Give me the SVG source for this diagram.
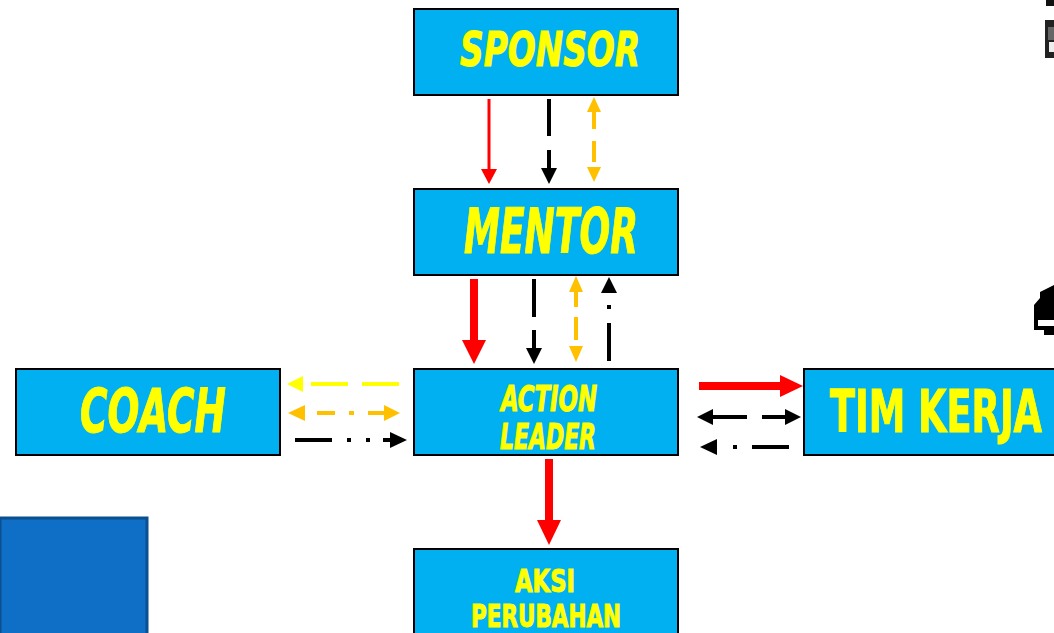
<svg xmlns="http://www.w3.org/2000/svg" width="1054" height="633" viewBox="0 0 1054 633">
<style>
.box{fill:#00B0F0;stroke:#000;stroke-width:2}
.t{fill:#FFFF00;stroke:#FFFF00;stroke-width:1;font-family:"DejaVu Sans Condensed","DejaVu Sans","Liberation Sans",sans-serif;font-weight:bold;text-anchor:middle}
.it{font-style:italic}
</style>
<rect width="1054" height="633" fill="#FFFFFF"/>
<g id="decor">
<rect x="0" y="518" width="147" height="120" fill="#0F6FC6" stroke="#0B4F8F" stroke-width="3"/>
<path d="M1046,0H1054V6H1046Z" fill="#111"/>
<path d="M1045,20H1054V58H1045Z" fill="#222"/>
<path d="M1048,27H1054V40H1048Z" fill="#666"/>
<path d="M1049,42H1054V52H1049Z" fill="#EEE"/>
<path d="M1034,318V305L1040,298V292L1054,285V335H1044V330H1034Z" fill="#000"/>
<rect x="1038" y="320" width="16" height="6" fill="#FFF"/>
</g>
<g id="sponsor"><rect class="box" x="414" y="9" width="264" height="86"/><text class="t it" x="550" y="66" font-size="48" textLength="180" lengthAdjust="spacingAndGlyphs">SPONSOR</text></g>
<g id="mentor"><rect class="box" x="414" y="189" width="264" height="86"/><text class="t it" x="551" y="253" font-size="62" textLength="174" lengthAdjust="spacingAndGlyphs">MENTOR</text></g>
<g id="coach"><rect class="box" x="16" y="369" width="264" height="86"/><text class="t it" x="153" y="432" font-size="60" textLength="146" lengthAdjust="spacingAndGlyphs">COACH</text></g>
<g id="action-leader"><rect class="box" x="414" y="369" width="264" height="86"/><text class="t it" font-size="35"><tspan x="549" y="411" textLength="96" lengthAdjust="spacingAndGlyphs">ACTION</tspan><tspan x="548" y="449" textLength="96" lengthAdjust="spacingAndGlyphs">LEADER</tspan></text></g>
<g id="tim-kerja"><rect class="box" x="804" y="369" width="262" height="86"/><text class="t" x="936" y="432" font-size="58" textLength="212" lengthAdjust="spacingAndGlyphs">TIM KERJA</text></g>
<g id="aksi-perubahan"><rect class="box" x="414" y="549" width="264" height="92"/><text class="t" font-size="32"><tspan x="545" y="592" textLength="60" lengthAdjust="spacingAndGlyphs">AKSI</tspan><tspan x="546" y="627" textLength="150" lengthAdjust="spacingAndGlyphs">PERUBAHAN</tspan></text></g>
<g id="connectors">
<line x1="489" y1="99" x2="489" y2="170" stroke="#FF0000" stroke-width="3"/>
<path d="M481,169H497L489,184Z" fill="#FF0000"/>
<line x1="549" y1="99" x2="549" y2="136" stroke="#000" stroke-width="4"/>
<line x1="549" y1="150" x2="549" y2="170" stroke="#000" stroke-width="4"/>
<path d="M541,168H557L549,184Z" fill="#000"/>
<path d="M594,97L601,112H587Z" fill="#FFC000"/>
<line x1="594" y1="112" x2="594" y2="129" stroke="#FFC000" stroke-width="4"/>
<line x1="594" y1="141" x2="594" y2="162" stroke="#FFC000" stroke-width="4"/>
<path d="M587,167H601L594,182Z" fill="#FFC000"/>
<line x1="474" y1="279" x2="474" y2="342" stroke="#FF0000" stroke-width="8"/>
<path d="M462,340H486L474,364Z" fill="#FF0000"/>
<line x1="534" y1="279" x2="534" y2="317" stroke="#000" stroke-width="4"/>
<line x1="534" y1="330" x2="534" y2="350" stroke="#000" stroke-width="4"/>
<path d="M526,348H542L534,364Z" fill="#000"/>
<path d="M576,276L583,292H569Z" fill="#FFC000"/>
<line x1="576" y1="292" x2="576" y2="307" stroke="#FFC000" stroke-width="4"/>
<line x1="576" y1="317" x2="576" y2="340" stroke="#FFC000" stroke-width="4"/>
<path d="M569,346H583L576,362Z" fill="#FFC000"/>
<path d="M609,277L617,293H601Z" fill="#000"/>
<rect x="607" y="305" width="4" height="4" fill="#000"/>
<line x1="609" y1="323" x2="609" y2="361" stroke="#000" stroke-width="4"/>
<line x1="549" y1="459" x2="549" y2="522" stroke="#FF0000" stroke-width="8"/>
<path d="M537,520H561L549,545Z" fill="#FF0000"/>
<path d="M287,384L303,376V392Z" fill="#FFFF00"/>
<line x1="311" y1="384" x2="348" y2="384" stroke="#FFFF00" stroke-width="4"/>
<line x1="362" y1="384" x2="399" y2="384" stroke="#FFFF00" stroke-width="4"/>
<path d="M288,413L305,405V421Z" fill="#FFC000"/>
<line x1="317" y1="413" x2="335" y2="413" stroke="#FFC000" stroke-width="4"/>
<line x1="349" y1="413" x2="354" y2="413" stroke="#FFC000" stroke-width="4"/>
<line x1="368" y1="413" x2="385" y2="413" stroke="#FFC000" stroke-width="4"/>
<path d="M400,413L384,405V421Z" fill="#FFC000"/>
<line x1="295" y1="440" x2="332" y2="440" stroke="#000" stroke-width="4"/>
<rect x="347" y="438" width="4" height="4" fill="#000"/>
<rect x="366" y="438" width="4" height="4" fill="#000"/>
<line x1="383" y1="440" x2="391" y2="440" stroke="#000" stroke-width="4"/>
<path d="M407,440L390,432V448Z" fill="#000"/>
<line x1="699" y1="386" x2="782" y2="386" stroke="#FF0000" stroke-width="8"/>
<path d="M803,386L780,375V397Z" fill="#FF0000"/>
<path d="M697,417L713,409V425Z" fill="#000"/>
<line x1="713" y1="417" x2="747" y2="417" stroke="#000" stroke-width="4"/>
<line x1="762" y1="417" x2="787" y2="417" stroke="#000" stroke-width="4"/>
<path d="M801,417L785,409V425Z" fill="#000"/>
<path d="M700,447L717,439V455Z" fill="#000"/>
<rect x="733" y="445" width="4" height="4" fill="#000"/>
<line x1="752" y1="447" x2="789" y2="447" stroke="#000" stroke-width="4"/>
</g>
</svg>
